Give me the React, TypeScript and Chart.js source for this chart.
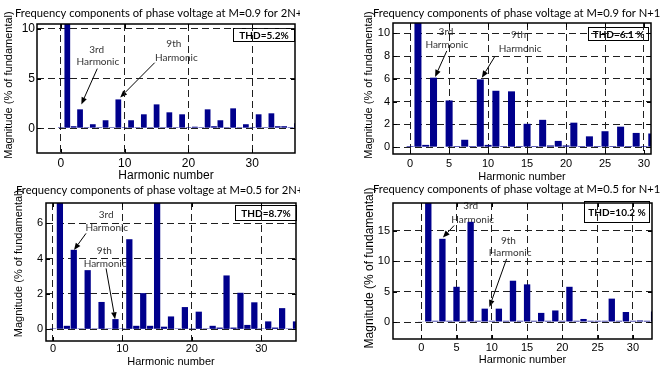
import React, { useEffect, useRef } from 'react';
import { Chart, registerables } from 'chart.js';

Chart.register(...registerables);

// ---------------- data ----------------
const harmonicsA = [0, 1, 2, 3, 4, 5, 6, 7, 8, 9, 10, 11, 12, 13, 14, 15, 16, 17, 18, 19, 20, 21, 22, 23, 24, 25, 26, 27, 28, 29, 30, 31, 32, 33, 34, 35, 36, 37];
const magnitudeA = [0.1, 100, 0.2, 1.9, 0.1, 0.4, 0.1, 0.8, 0.1, 2.9, 0.1, 0.8, 0.1, 1.4, 0.1, 2.4, 0.1, 1.6, 0.1, 1.4, 0.1, 0.15, 0.1, 1.9, 0.2, 0.8, 0.1, 2.0, 0.1, 0.4, 0.1, 1.4, 0.1, 1.5, 0.2, 0.2, 0.1, 0.5];

const harmonicsB = [0, 1, 2, 3, 4, 5, 6, 7, 8, 9, 10, 11, 12, 13, 14, 15, 16, 17, 18, 19, 20, 21, 22, 23, 24, 25, 26, 27, 28, 29, 30, 31];
const magnitudeB = [0.1, 100, 0.2, 6.1, 0.05, 4.1, 0.1, 0.65, 0.1, 5.95, 0.2, 4.95, 0.1, 4.9, 0.1, 2.05, 0.1, 2.4, 0.15, 0.55, 0.15, 2.15, 0.1, 0.95, 0.1, 1.4, 0.1, 1.8, 0.1, 1.25, 0.1, 1.2];

const harmonicsC = [0, 1, 2, 3, 4, 5, 6, 7, 8, 9, 10, 11, 12, 13, 14, 15, 16, 17, 18, 19, 20, 21, 22, 23, 24, 25, 26, 27, 28, 29, 30, 31, 32, 33, 34, 35];
const magnitudeC = [0.05, 100, 0.2, 4.5, 0.05, 3.35, 0.05, 1.55, 0.05, 0.58, 0.05, 5.1, 0.2, 2.05, 0.2, 8, 0.15, 0.73, 0.05, 1.26, 0.05, 1.0, 0.05, 0.2, 0.1, 3.05, 0.1, 2.07, 0.25, 1.53, 0.05, 0.45, 0.1, 1.2, 0.05, 0.45];

const harmonicsD = [0, 1, 2, 3, 4, 5, 6, 7, 8, 9, 10, 11, 12, 13, 14, 15, 16, 17, 18, 19, 20, 21, 22, 23, 24, 25, 26, 27, 28, 29, 30, 31, 32, 33];
const magnitudeD = [0.1, 100, 0.2, 13.7, 0.2, 5.8, 0.2, 16.5, 0.2, 2.2, 0.2, 2.2, 0.2, 6.8, 0.2, 6.2, 0.2, 1.5, 0.2, 1.9, 0.2, 5.8, 0.2, 0.5, 0.2, 0.2, 0.2, 3.85, 0.2, 1.65, 0.2, 0.25, 0.2, 1.75];

const xTicksA = [0, 10, 20, 30];
const yTicksA = [0, 5, 10];
const xTicksB = [0, 5, 10, 15, 20, 25, 30];
const yTicksB = [0, 2, 4, 6, 8, 10];
const xTicksC = [0, 10, 20, 30];
const yTicksC = [0, 2, 4, 6];
const xTicksD = [0, 5, 10, 15, 20, 25, 30];
const yTicksD = [0, 5, 10, 15];

const titleA = 'Frequency components of phase voltage at M=0.9 for 2N+1';
const titleB = 'Frequency components of phase voltage at M=0.9 for N+1';
const titleC = 'Frequency components of phase voltage at M=0.5 for 2N+1';
const titleD = 'Frequency components of phase voltage at M=0.5 for N+1';
const thdLabels = ['THD=5.2%', 'THD=6.1 %', 'THD=8.7%', 'THD=10.2 %'];
const xAxisTitle = 'Harmonic number';
const yAxisTitle = 'Magnitude (% of fundamental)';

// ---------------- styles ----------------
const BAR = '#00008c';
const GRID = '#1f1f1f';
const SANS = "'Liberation Sans', Arial, sans-serif";
const CAL = "Lato, 'Open Sans', sans-serif";

type P = [number, number];
interface Note { text: string; at: P }
interface Arrow { from: P; to: P }
interface PanelCfg {
  left: number; top: number; width: number; height: number;
  harmonics: number[]; values: number[];
  xRange: P; yRange: P; xTicks: number[]; yTicks: number[];
  padTop: number; padRight: number; yAxisWidth: number; xAxisHeight: number;
  tickFont: number; tickPadX: number; tickPadY: number;
  xTitleFont: number; xTitlePadBottom: number;
  title: string; titlePos: P; yTitlePos: P; yTitleFont: number;
  thd: string; thdBox: { right: number; top: number; w: number; h: number };
  notes: Note[]; arrows: Arrow[];
}

const panels: PanelCfg[] = [
  {
    left: 0, top: 0, width: 300, height: 186,
    harmonics: harmonicsA, values: magnitudeA,
    xRange: [-3.75, 36.7], yRange: [-2.5, 10.5], xTicks: xTicksA, yTicks: yTicksA,
    padTop: 24, padRight: 5, yAxisWidth: 37, xAxisHeight: 33,
    tickFont: 12, tickPadX: 3, tickPadY: 2,
    xTitleFont: 12, xTitlePadBottom: 3,
    title: titleA, titlePos: [15, 13], yTitlePos: [8.5, 85], yTitleFont: 11,
    thd: thdLabels[0], thdBox: { right: 0, top: 4, w: 62, h: 14 },
    notes: [
      { text: '3rd', at: [5.6, 7.95] }, { text: 'Harmonic', at: [5.8, 6.7] },
      { text: '9th', at: [17.7, 8.55] }, { text: 'Harmonic', at: [18.1, 7.1] },
    ],
    arrows: [{ from: [5.7, 6.0], to: [3.2, 2.4] }, { from: [14.7, 6.6], to: [9.3, 3.1] }],
  },
  {
    left: 340, top: 0, width: 330, height: 186,
    harmonics: harmonicsB, values: magnitudeB,
    xRange: [-2.2, 30.9], yRange: [-0.6, 10.9], xTicks: xTicksB, yTicks: yTicksB,
    padTop: 23, padRight: 19, yAxisWidth: 53, xAxisHeight: 32,
    tickFont: 11, tickPadX: 3, tickPadY: 3,
    xTitleFont: 11, xTitlePadBottom: 2.5,
    title: titleB, titlePos: [33, 13], yTitlePos: [28.5, 85], yTitleFont: 11,
    thd: thdLabels[1], thdBox: { right: 2, top: 4, w: 61, h: 14 },
    notes: [
      { text: '3rd', at: [4.6, 10.1] }, { text: 'Harmonic', at: [4.7, 8.95] },
      { text: '9th', at: [13.9, 9.9] }, { text: 'Harmonic', at: [14.1, 8.6] },
    ],
    arrows: [{ from: [4.7, 8.45], to: [3.2, 6.17] }, { from: [10.9, 8.0], to: [9.2, 6.1] }],
  },
  {
    left: 0, top: 178, width: 300, height: 194,
    harmonics: harmonicsC, values: magnitudeC,
    xRange: [-1, 35], yRange: [-0.66, 7.15], xTicks: xTicksC, yTicks: yTicksC,
    padTop: 25, padRight: 4, yAxisWidth: 46, xAxisHeight: 31,
    tickFont: 11, tickPadX: 1, tickPadY: 3,
    xTitleFont: 11, xTitlePadBottom: 3,
    title: titleC, titlePos: [16, 12], yTitlePos: [19, 85.5], yTitleFont: 11,
    thd: thdLabels[2], thdBox: { right: -1, top: 2, w: 62, h: 16 },
    notes: [
      { text: '3rd', at: [7.65, 6.5] }, { text: 'Harmonic', at: [7.75, 5.77] },
      { text: '9th', at: [7.4, 4.45] }, { text: 'Harmonic', at: [7.5, 3.73] },
    ],
    arrows: [{ from: [4.76, 5.43], to: [3.03, 4.49] }, { from: [7.65, 3.45], to: [8.95, 0.57] }],
  },
  {
    left: 340, top: 178, width: 330, height: 194,
    harmonics: harmonicsD, values: magnitudeD,
    xRange: [-4, 32.7], yRange: [-2.8, 19.6], xTicks: xTicksD, yTicks: yTicksD,
    padTop: 25, padRight: 18, yAxisWidth: 53, xAxisHeight: 33,
    tickFont: 11, tickPadX: 2, tickPadY: 3,
    xTitleFont: 11, xTitlePadBottom: 5.4,
    title: titleD, titlePos: [33, 11], yTitlePos: [30, 90], yTitleFont: 12,
    thd: thdLabels[3], thdBox: { right: 2, top: -2, w: 66, h: 22 },
    notes: [
      { text: '3rd', at: [7.0, 19.06] }, { text: 'Harmonic', at: [7.3, 16.9] },
      { text: '9th', at: [12.35, 13.35] }, { text: 'Harmonic', at: [12.6, 11.4] },
    ],
    arrows: [{ from: [4.67, 15.9], to: [3.07, 13.9] }, { from: [12.1, 10.4], to: [9.66, 2.47] }],
  },
];

function decorPlugin(p: PanelCfg) {
  return {
    id: 'decor',
    beforeDraw(chart: any) {
      const { ctx, chartArea: a, scales } = chart;
      const xs = scales.x, ys = scales.y;
      ctx.save();
      // THD box (grid drawn over it)
      const b = p.thdBox;
      const bx = a.right - b.right - b.w;
      const by = a.top + b.top;
      ctx.fillStyle = '#ffffff';
      ctx.fillRect(bx, by, b.w, b.h);
      ctx.strokeStyle = '#000';
      ctx.lineWidth = 1;
      ctx.strokeRect(bx + 0.5, by + 0.5, b.w - 1, b.h - 1);
      ctx.fillStyle = '#000';
      ctx.font = `bold 10px ${CAL}`;
      ctx.textAlign = 'center';
      ctx.textBaseline = 'middle';
      ctx.fillText(p.thd, bx + b.w / 2, by + b.h / 2 + 0.5);
      // annotation text
      ctx.font = `10px ${CAL}`;
      ctx.fillStyle = '#333';
      for (const n of p.notes) {
        ctx.fillText(n.text, xs.getPixelForValue(n.at[0]), ys.getPixelForValue(n.at[1]));
      }
      // arrows
      ctx.strokeStyle = '#000';
      ctx.fillStyle = '#000';
      ctx.lineWidth = 1;
      for (const ar of p.arrows) {
        const x0 = xs.getPixelForValue(ar.from[0]), y0 = ys.getPixelForValue(ar.from[1]);
        const x1 = xs.getPixelForValue(ar.to[0]), y1 = ys.getPixelForValue(ar.to[1]);
        const ang = Math.atan2(y1 - y0, x1 - x0);
        const L = 7, W = 2.8;
        const bxp = x1 - L * Math.cos(ang), byp = y1 - L * Math.sin(ang);
        ctx.beginPath();
        ctx.moveTo(x0, y0);
        ctx.lineTo(bxp, byp);
        ctx.stroke();
        ctx.beginPath();
        ctx.moveTo(x1, y1);
        ctx.lineTo(bxp + W * Math.sin(ang), byp - W * Math.cos(ang));
        ctx.lineTo(bxp - W * Math.sin(ang), byp + W * Math.cos(ang));
        ctx.closePath();
        ctx.fill();
      }
      ctx.restore();
    },
    afterDatasetsDraw(chart: any) {
      const { ctx, chartArea: a, scales } = chart;
      ctx.save();
      ctx.strokeStyle = '#000';
      ctx.lineWidth = 1;
      const T = 4;
      ctx.beginPath();
      for (const v of p.xTicks) {
        const px = Math.round(scales.x.getPixelForValue(v)) + 0.5;
        ctx.moveTo(px, a.bottom); ctx.lineTo(px, a.bottom - T);
        ctx.moveTo(px, a.top); ctx.lineTo(px, a.top + T);
      }
      for (const v of p.yTicks) {
        const py = Math.round(scales.y.getPixelForValue(v)) + 0.5;
        ctx.moveTo(a.left, py); ctx.lineTo(a.left + T, py);
        ctx.moveTo(a.right, py); ctx.lineTo(a.right - T, py);
      }
      ctx.stroke();
      ctx.lineWidth = 1.5;
      ctx.strokeRect(a.left, a.top, a.right - a.left, a.bottom - a.top);
      ctx.restore();
    },
    afterDraw(chart: any) {
      const { ctx } = chart;
      ctx.save();
      ctx.fillStyle = '#000';
      ctx.font = `11.2px ${CAL}`;
      ctx.textAlign = 'left';
      ctx.textBaseline = 'middle';
      ctx.fillText(p.title, p.titlePos[0], p.titlePos[1]);
      ctx.translate(p.yTitlePos[0], p.yTitlePos[1]);
      ctx.rotate(-Math.PI / 2);
      ctx.textAlign = 'center';
      ctx.font = `${p.yTitleFont}px ${SANS}`;
      ctx.fillText(yAxisTitle, 0, 0);
      ctx.restore();
    },
  };
}

function buildConfig(p: PanelCfg): any {
  return {
    type: 'bar',
    data: {
      datasets: [
        {
          data: p.harmonics.map((h, i) => ({ x: h, y: p.values[i] })),
          backgroundColor: BAR,
          borderWidth: 0,
          barPercentage: 0.9,
          categoryPercentage: 1,
          clip: 0,
        },
      ],
    },
    options: {
      responsive: false,
      animation: false,
      devicePixelRatio: 1,
      layout: { padding: { top: p.padTop, right: p.padRight, left: 0, bottom: 0 } },
      plugins: { legend: { display: false }, title: { display: false }, tooltip: { enabled: false } },
      scales: {
        x: {
          type: 'linear',
          min: p.xRange[0],
          max: p.xRange[1],
          offset: false,
          afterBuildTicks: (s: any) => { s.ticks = p.xTicks.map((v) => ({ value: v })); },
          afterFit: (s: any) => { s.height = p.xAxisHeight; },
          grid: { color: GRID, lineWidth: 1, drawTicks: false, offset: false },
          border: { display: false, dash: [7, 4] },
          ticks: { color: '#000', font: { family: SANS, size: p.tickFont }, padding: p.tickPadX, maxRotation: 0, autoSkip: false },
          title: {
            display: true, text: xAxisTitle, color: '#000',
            font: { family: SANS, size: p.xTitleFont, lineHeight: 1.2 },
            padding: { top: 0, bottom: p.xTitlePadBottom },
          },
        },
        y: {
          type: 'linear',
          min: p.yRange[0],
          max: p.yRange[1],
          afterBuildTicks: (s: any) => { s.ticks = p.yTicks.map((v) => ({ value: v })); },
          afterFit: (s: any) => { s.width = p.yAxisWidth; },
          grid: { color: GRID, lineWidth: 1, drawTicks: false },
          border: { display: false, dash: [7, 4] },
          ticks: { color: '#000', font: { family: SANS, size: p.tickFont }, padding: p.tickPadY },
        },
      },
    },
    plugins: [decorPlugin(p)],
  };
}

function Panel({ cfg }: { cfg: PanelCfg }) {
  const ref = useRef<HTMLCanvasElement>(null);
  useEffect(() => {
    const chart = new Chart(ref.current as HTMLCanvasElement, buildConfig(cfg));
    return () => chart.destroy();
  }, [cfg]);
  return (
    <div style={{ position: 'absolute', left: cfg.left, top: cfg.top, width: cfg.width, height: cfg.height }}>
      <canvas ref={ref} width={cfg.width} height={cfg.height} style={{ display: 'block', width: cfg.width, height: cfg.height }} />
    </div>
  );
}

export default function App() {
  return (
    <div style={{ position: 'fixed', left: 0, top: 0, width: 670, height: 372, background: '#fff', overflow: 'hidden' }}>
      {panels.map((p, i) => (
        <Panel key={i} cfg={p} />
      ))}
    </div>
  );
}
